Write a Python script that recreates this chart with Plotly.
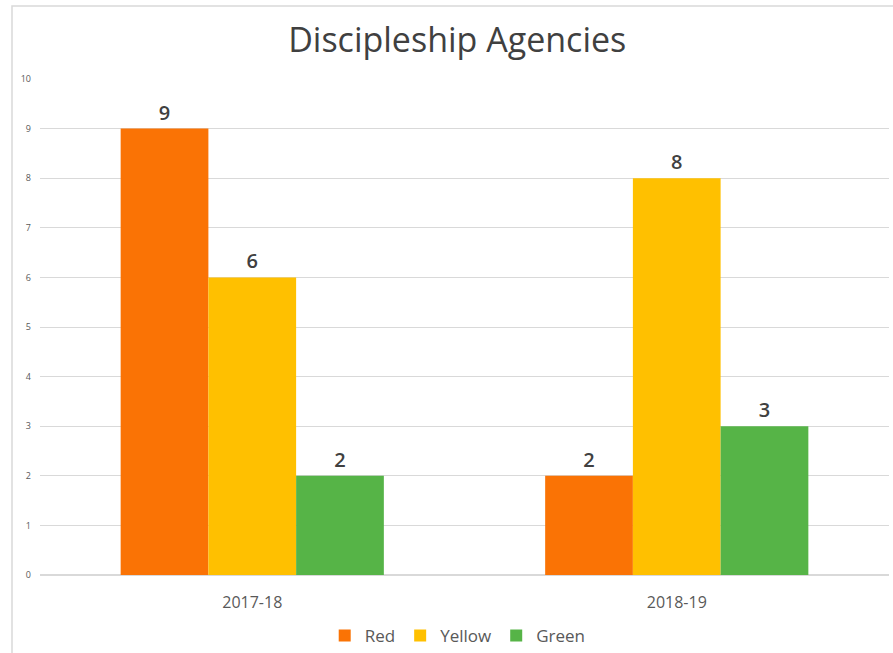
import plotly.graph_objects as go

categories = ["2017-18", "2018-19"]
series_names = ["Red", "Yellow", "Green"]
red_values = [9, 2]
yellow_values = [6, 8]
green_values = [2, 3]
colors = ["#FA7305", "#FFC000", "#56B447"]

fig = go.Figure()
for name, vals, col in zip(series_names, [red_values, yellow_values, green_values], colors):
    fig.add_trace(go.Bar(
        x=categories, y=vals, name=name, marker_color=col,
        marker_line_width=0,
        text=[str(v) for v in vals], textposition="outside",
        textfont=dict(size=20, color="#404040", family="Open Sans", weight=600),
        cliponaxis=False,
    ))

W, H = 893, 653
ml, mr, mt, mb = 40, 4, 79, 78
pw, ph = W - ml - mr, H - mt - mb

def px_x(p):
    return (p - ml) / pw

def px_y(p):
    return (H - mb - p) / ph

fig.update_layout(
    width=W, height=H,
    margin=dict(l=ml, r=mr, t=mt, b=mb, autoexpand=False),
    paper_bgcolor="white", plot_bgcolor="white",
    barmode="group", bargap=0.38, bargroupgap=0,
    title=dict(text="Discipleship Agencies", x=0.512, xanchor="center", y=1 - 40 / H, yanchor="middle",
               font=dict(size=34, color="#404040", family="Open Sans")),
    font=dict(family="Open Sans", color="#595959"),
    xaxis=dict(showgrid=False, showline=False, ticks="", tickfont=dict(size=16, color="#595959"),
               ticklabelstandoff=16),
    yaxis=dict(range=[0, 10], dtick=1, showgrid=True, gridcolor="#D9D9D9", gridwidth=1,
               zeroline=True, zerolinecolor="#D9D9D9", showline=False, ticks="",
               tickfont=dict(size=9, color="#595959"), ticklabelstandoff=8),
    legend=dict(orientation="h", x=0.492, xanchor="center", yref="container", y=1 - 636 / H, yanchor="middle",
                font=dict(size=17, color="#595959"), itemwidth=30, traceorder="normal"),
    showlegend=True,
    shapes=[dict(type="rect", xref="paper", yref="paper",
                 x0=px_x(12), x1=px_x(905), y0=px_y(6), y1=px_y(665),
                 line=dict(color="#D9D9D9", width=1.5), fillcolor="rgba(0,0,0,0)", layer="below")],
)

fig.write_html("out.html")
